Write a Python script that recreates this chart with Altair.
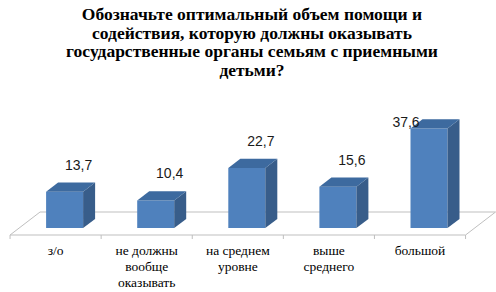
import altair as alt
import pandas as pd

# ---- data ----
categories = ["з/о", "не должны\nвообще\nоказывать", "на среднем\nуровне", "выше\nсреднего", "большой"]
values = [13.7, 10.4, 22.7, 15.6, 37.6]
title_lines = [
    "Обозначьте оптимальный объем помощи и",
    "содействия, которую должны оказывать",
    "государственные органы семьям с приемными",
    "детьми?",
]

SERIF = "Liberation Serif"

# ---- 3D geometry helpers (scale units) ----
PX_X = 91.1          # pixels per category
PX_Y = 2.65          # pixels per value unit
D = 30 / PX_X        # horizontal shift of floor depth
H = 23 / PX_Y        # vertical shift of floor depth
W = 18.5 / PX_X      # half bar width
Z0, Z1 = 0.3, 0.7    # bar front/back depth
CAP = (235 - 123) / PX_Y

xs = alt.Scale(domain=[-55.6 / PX_X, (496 - 55.6) / PX_X], nice=False, zero=False)
ys = alt.Scale(domain=[(235 - 292) / PX_Y, 235 / PX_Y], nice=False, zero=False)

front, side, top, labels, cats = [], [], [], [], []
for i, (c, v) in enumerate(zip(categories, values)):
    front.append(dict(bar=i, x=i + Z0 * D - W, x2=i + Z0 * D + W, y=Z0 * H, y2=v + Z0 * H))
    for z in (Z0, Z1):
        side.append(dict(bar=i, x=i + z * D + W, y=z * H, y2=v + z * H))
    top += [
        dict(bar=i, x=i + Z0 * D - W, y=v + Z0 * H, y2=v + Z0 * H),
        dict(bar=i, x=i + Z1 * D - W, y=v + Z0 * H, y2=v + Z1 * H),
        dict(bar=i, x=i + Z0 * D + W, y=v + Z0 * H, y2=v + Z1 * H),
        dict(bar=i, x=i + Z1 * D + W, y=v + Z1 * H, y2=v + Z1 * H),
    ]
    ly = v + 0.5 * H + 21.5 / PX_Y
    lx = i + 0.5 * D + 8 / PX_X
    if ly > CAP:
        ly = CAP
        lx = i + 0.5 * D - 29 / PX_X
    labels.append(dict(x=lx, y=ly, t=f"{v:.1f}".replace(".", ",")))
    cats.append(dict(x=i, t=c))

n = len(categories)
floor = pd.DataFrame([
    dict(o=0, x=-0.5, y=0.0),
    dict(o=1, x=n - 0.5, y=0.0),
    dict(o=2, x=n - 0.5 + D, y=H),
    dict(o=3, x=-0.5 + D, y=H),
    dict(o=4, x=-0.5, y=0.0),
])
ticks = pd.DataFrame([dict(x=k - 0.5, y=0.0, y2=-4 / PX_Y) for k in range(n + 1)])

GRID = "#BFBFBF"

floor_l = alt.Chart(floor).mark_line(color=GRID, strokeWidth=1).encode(
    x=alt.X("x:Q", scale=xs, axis=None),
    y=alt.Y("y:Q", scale=ys, axis=None),
    order="o:Q",
)
tick_l = alt.Chart(ticks).mark_rule(color=GRID, strokeWidth=1).encode(
    x=alt.X("x:Q", scale=xs, axis=None),
    y=alt.Y("y:Q", scale=ys, axis=None),
    y2="y2:Q",
)
front_l = alt.Chart(pd.DataFrame(front)).mark_rect(color="#4F81BD").encode(
    x=alt.X("x:Q", scale=xs, axis=None),
    x2="x2:Q",
    y=alt.Y("y:Q", scale=ys, axis=None),
    y2="y2:Q",
)
side_l = alt.Chart(pd.DataFrame(side)).mark_area(color="#385D8A", orient="vertical").encode(
    x=alt.X("x:Q", scale=xs, axis=None),
    y=alt.Y("y:Q", scale=ys, axis=None),
    y2="y2:Q",
    detail="bar:N",
)
top_l = alt.Chart(pd.DataFrame(top)).mark_area(color="#3D6A9F", orient="vertical").encode(
    x=alt.X("x:Q", scale=xs, axis=None),
    y=alt.Y("y:Q", scale=ys, axis=None),
    y2="y2:Q",
    detail="bar:N",
)
val_l = alt.Chart(pd.DataFrame(labels)).mark_text(
    font="Liberation Sans", fontSize=14, color="#1a1a1a", baseline="middle", align="center"
).encode(
    x=alt.X("x:Q", scale=xs, axis=None),
    y=alt.Y("y:Q", scale=ys, axis=None),
    text="t:N",
)
cat_l = alt.Chart(pd.DataFrame(cats)).mark_text(
    font=SERIF, fontSize=13.5, color="#000000", baseline="top", align="center",
    lineBreak="\n", lineHeight=16,
).encode(
    x=alt.X("x:Q", scale=xs, axis=None),
    y=alt.value(244),
    text="t:N",
)
title_l = alt.Chart(pd.DataFrame({"k": [0]})).mark_text(
    text=title_lines, font=SERIF, fontSize=17.5, fontWeight="bold",
    color="#000000", align="center", baseline="alphabetic", lineHeight=18.5,
).encode(x=alt.value(252), y=alt.value(20))

chart = alt.layer(floor_l, tick_l, front_l, side_l, top_l, val_l, cat_l, title_l).properties(
    width=496, height=292, autosize=alt.AutoSizeParams(type="none"), padding=0,
    background="#FFFFFF",
).configure_view(strokeWidth=0)

chart.save("out.html", embed_options={"renderer": "svg", "actions": False})
